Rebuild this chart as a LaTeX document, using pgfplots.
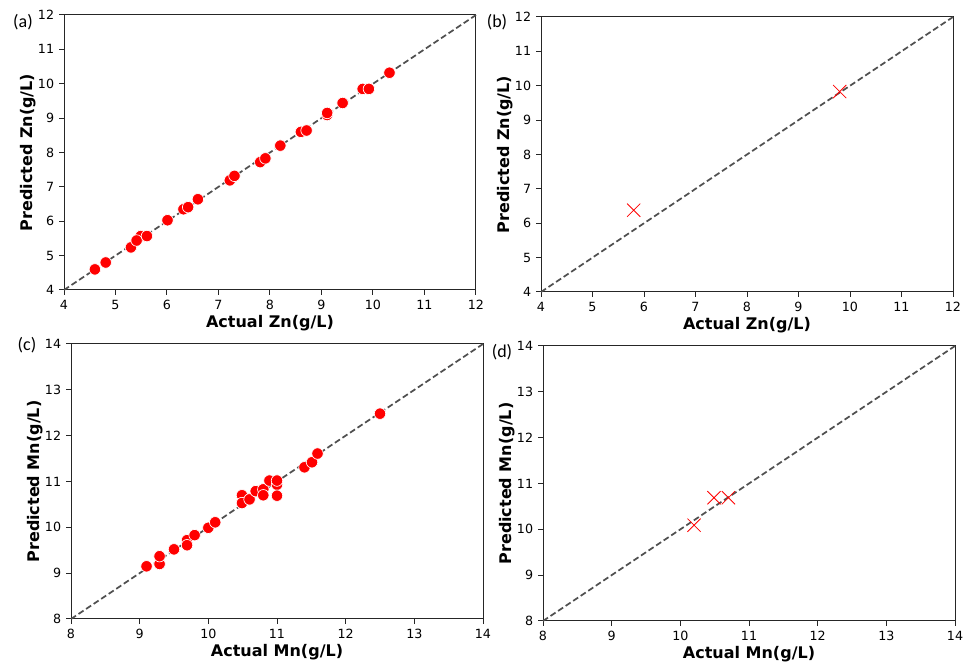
\documentclass[border=0pt]{standalone}
\usepackage{fontspec}
\setmainfont{DejaVu Sans}
\newfontfamily\calib{Carlito}
\usepackage{pgfplots}
\pgfplotsset{compat=1.18}

\definecolor{diag}{RGB}{80,80,80}

\pgfplotsset{
  panel/.style={
    scale only axis,
    width=309pt, height=206.25pt,
    anchor=south west,
    axis line style={black!85, line width=0.75pt},
    tick align=outside,
    tickwidth=3.75pt,
    xtick style={draw=black!85, line width=0.75pt},
    ytick style={draw=black!85, line width=0.75pt},
    xtick pos=left, ytick pos=left,
    tick label style={font=\fontsize{9.5}{10}\selectfont},
    /pgf/number format/assume math mode=true,
    xticklabel style={inner sep=0pt, yshift=-3.5pt},
    yticklabel style={inner sep=0pt, xshift=-3.5pt},
    label style={font=\fontsize{12}{14}\selectfont\bfseries},
    xlabel style={at={(axis description cs:0.5,-0.12)}, anchor=center},
    ylabel style={at={(axis description cs:-0.0874,0.5)}, anchor=center},
    clip=false,
  },
  diagline/.style={diag, line width=1.3pt, dash pattern=on 4.5pt off 2.3pt, no markers},
  dots/.style={only marks, mark=*, mark size=4.3pt,
    mark options={fill=red, draw=white, line width=0.5pt}},
  crosses/.style={only marks, mark=x, mark size=7pt,
    mark options={draw=red, line width=0.6pt}},
}

\begin{document}
\begin{tikzpicture}
\useasboundingbox (0,0) rectangle (723.75pt,-499.5pt);

% (a) training Zn
\begin{axis}[panel, at={(48pt,-217.5pt)},
  xmin=4, xmax=12, ymin=4, ymax=12,
  xtick={4,...,12}, ytick={4,...,12},
  xlabel={Actual Zn(g/L)}, ylabel={Predicted Zn(g/L)}]
\addplot[diagline] coordinates {(4,4) (12,12)};
\addplot[dots] coordinates {
 (4.60,4.60) (4.81,4.80) (5.30,5.24) (5.49,5.57) (5.41,5.44) (5.61,5.57)
 (6.01,6.03) (6.32,6.35) (6.41,6.41) (6.60,6.64) (7.22,7.19) (7.31,7.32)
 (7.81,7.72) (7.91,7.83) (8.20,8.20) (8.60,8.60) (8.71,8.64) (9.11,9.09)
 (9.11,9.15) (9.41,9.44) (9.80,9.85) (9.92,9.85) (10.32,10.32)
};
\end{axis}

% (b) test Zn
\begin{axis}[panel, at={(405.75pt,-219pt)},
  xmin=4, xmax=12, ymin=4, ymax=12,
  xtick={4,...,12}, ytick={4,...,12},
  xlabel={Actual Zn(g/L)}, ylabel={Predicted Zn(g/L)}]
\addplot[diagline] coordinates {(4,4) (12,12)};
\addplot[crosses] coordinates {(5.80,6.38) (9.80,9.83)};
\end{axis}

% (c) training Mn
\begin{axis}[panel, at={(53.25pt,-464.25pt)},
  xmin=8, xmax=14, ymin=8, ymax=14,
  xtick={8,...,14}, ytick={8,...,14},
  xlabel={Actual Mn(g/L)}, ylabel={Predicted Mn(g/L)}]
\addplot[diagline] coordinates {(8,8) (14,14)};
\addplot[dots] coordinates {
 (9.10,9.15) (9.29,9.20) (9.29,9.37) (9.50,9.52) (9.69,9.72) (9.69,9.61)
 (9.80,9.83) (10.00,9.99) (10.10,10.11) (10.49,10.70) (10.49,10.53)
 (10.60,10.61) (10.69,10.79) (10.80,10.83) (10.80,10.70) (10.89,11.02)
 (11.00,10.93) (11.00,11.02) (11.00,10.69) (11.40,11.31) (11.51,11.42)
 (11.59,11.61) (12.50,12.48)
};
\end{axis}

% (d) test Mn
\begin{axis}[panel, at={(407.25pt,-465.75pt)},
  xmin=8, xmax=14, ymin=8, ymax=14,
  xtick={8,...,14}, ytick={8,...,14},
  xlabel={Actual Mn(g/L)}, ylabel={Predicted Mn(g/L)}]
\addplot[diagline] coordinates {(8,8) (14,14)};
\addplot[crosses] coordinates {(10.20,10.09) (10.49,10.69) (10.70,10.69)};
\end{axis}

\node[font=\calib\fontsize{13.5}{15}\selectfont] at (17.25pt,-16.5pt) {(a)};
\node[font=\calib\fontsize{13.5}{15}\selectfont] at (372.75pt,-16.5pt) {(b)};
\node[font=\calib\fontsize{13.5}{15}\selectfont] at (20.25pt,-258.75pt) {(c)};
\node[font=\calib\fontsize{13.5}{15}\selectfont] at (376.5pt,-264pt) {(d)};
\end{tikzpicture}
\end{document}
